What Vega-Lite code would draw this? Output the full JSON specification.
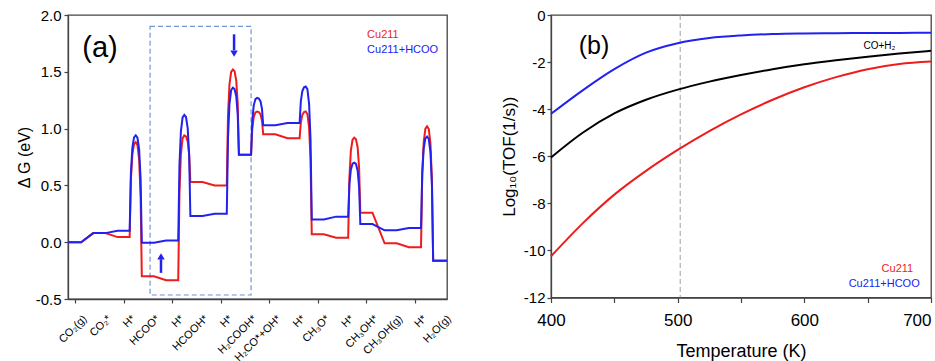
{
"$schema": "https://vega.github.io/schema/vega-lite/v6.json",
"padding": {"left": 15, "top": 7, "right": 0, "bottom": 0},
"spacing": 45,
"config": {
  "font": "Liberation Sans",
  "view": {"stroke": "#444", "strokeWidth": 1.3},
  "axis": {"grid": false, "domainColor": "#444", "domainWidth": 1.3, "tickColor": "#444", "tickWidth": 1.2, "labelColor": "#000", "titleColor": "#000", "titleFontWeight": "normal", "labelFlush": false}
},
"resolve": {"scale": {"color": "independent", "shape": "independent"}},
"datasets": {
  "box": [{"x1": 3.09, "x2": 7.25, "y1": 1.90, "y2": -0.465}],
  "arrows": [{"x": 6.55, "y": 1.83, "y2": 1.69}, {"x": 3.54, "y": -0.27, "y2": -0.15}],
  "heads": [{"x": 6.55, "y": 1.66, "dir": "down"}, {"x": 3.54, "y": -0.125, "dir": "up"}],
  "labelsA": [{"t": "Cu211", "x": 12.03, "y": 1.82}, {"t": "Cu211+HCOO", "x": 12.03, "y": 1.69}],
  "states": [
    {"i": 0, "lab": "CO₂(g)", "yb": -0.553}, {"i": 1, "lab": "CO₂*", "yb": -0.553}, {"i": 2, "lab": "H*", "yb": -0.553}, {"i": 3, "lab": "HCOO*", "yb": -0.553},
    {"i": 4, "lab": "H*", "yb": -0.553}, {"i": 5, "lab": "HCOOH*", "yb": -0.553}, {"i": 6, "lab": "H*", "yb": -0.553}, {"i": 7, "lab": "H₂COOH*", "yb": -0.553},
    {"i": 8, "lab": "H₂CO*+OH*", "yb": -0.553}, {"i": 9, "lab": "H*", "yb": -0.553}, {"i": 10, "lab": "CH₃O*", "yb": -0.553}, {"i": 11, "lab": "H*", "yb": -0.553},
    {"i": 12, "lab": "CH₃OH*", "yb": -0.553}, {"i": 13, "lab": "CH₃OH(g)", "yb": -0.553}, {"i": 14, "lab": "H*", "yb": -0.553}, {"i": 15, "lab": "H₂O(g)", "yb": -0.553}
  ],
  "profile": [
{"s":"Cu211","x":-0.29,"g":0},{"s":"Cu211","x":0.25,"g":0},{"s":"Cu211","x":0.75,"g":0.08},{"s":"Cu211","x":1.25,"g":0.08},{"s":"Cu211","x":1.75,"g":0.045},{"s":"Cu211","x":2.25,"g":0.045},{"s":"Cu211","x":2.30,"g":0.546},{"s":"Cu211","x":2.36,"g":0.771},{"s":"Cu211","x":2.43,"g":0.863},{"s":"Cu211","x":2.5,"g":0.88},{"s":"Cu211","x":2.57,"g":0.856},{"s":"Cu211","x":2.64,"g":0.727},{"s":"Cu211","x":2.70,"g":0.408},{"s":"Cu211","x":2.75,"g":-0.30},{"s":"Cu211","x":3.25,"g":-0.30},{"s":"Cu211","x":3.75,"g":-0.335},{"s":"Cu211","x":4.25,"g":-0.335},{"s":"Cu211","x":4.30,"g":0.43},{"s":"Cu211","x":4.36,"g":0.774},{"s":"Cu211","x":4.43,"g":0.915},{"s":"Cu211","x":4.5,"g":0.94},{"s":"Cu211","x":4.57,"g":0.932},{"s":"Cu211","x":4.64,"g":0.887},{"s":"Cu211","x":4.70,"g":0.776},{"s":"Cu211","x":4.75,"g":0.53},{"s":"Cu211","x":5.25,"g":0.53},{"s":"Cu211","x":5.75,"g":0.50},{"s":"Cu211","x":6.25,"g":0.50},{"s":"Cu211","x":6.30,"g":1.112},{"s":"Cu211","x":6.36,"g":1.387},{"s":"Cu211","x":6.43,"g":1.50},{"s":"Cu211","x":6.5,"g":1.52},{"s":"Cu211","x":6.57,"g":1.505},{"s":"Cu211","x":6.64,"g":1.423},{"s":"Cu211","x":6.70,"g":1.22},{"s":"Cu211","x":6.75,"g":0.77},{"s":"Cu211","x":7.25,"g":0.77},{"s":"Cu211","x":7.30,"g":0.998},{"s":"Cu211","x":7.36,"g":1.101},{"s":"Cu211","x":7.43,"g":1.142},{"s":"Cu211","x":7.5,"g":1.15},{"s":"Cu211","x":7.57,"g":1.146},{"s":"Cu211","x":7.64,"g":1.124},{"s":"Cu211","x":7.70,"g":1.07},{"s":"Cu211","x":7.75,"g":0.95},{"s":"Cu211","x":8.25,"g":0.95},{"s":"Cu211","x":8.75,"g":0.915},{"s":"Cu211","x":9.25,"g":0.915},{"s":"Cu211","x":9.30,"g":1.056},{"s":"Cu211","x":9.36,"g":1.119},{"s":"Cu211","x":9.43,"g":1.145},{"s":"Cu211","x":9.5,"g":1.15},{"s":"Cu211","x":9.57,"g":1.128},{"s":"Cu211","x":9.64,"g":1.01},{"s":"Cu211","x":9.70,"g":0.718},{"s":"Cu211","x":9.75,"g":0.07},{"s":"Cu211","x":10.25,"g":0.07},{"s":"Cu211","x":10.75,"g":0.04},{"s":"Cu211","x":11.25,"g":0.04},{"s":"Cu211","x":11.30,"g":0.568},{"s":"Cu211","x":11.36,"g":0.806},{"s":"Cu211","x":11.43,"g":0.902},{"s":"Cu211","x":11.5,"g":0.92},{"s":"Cu211","x":11.57,"g":0.907},{"s":"Cu211","x":11.64,"g":0.834},{"s":"Cu211","x":11.70,"g":0.656},{"s":"Cu211","x":11.75,"g":0.26},{"s":"Cu211","x":12.25,"g":0.26},{"s":"Cu211","x":12.75,"g":-0.01},{"s":"Cu211","x":13.25,"g":-0.01},{"s":"Cu211","x":13.75,"g":-0.045},{"s":"Cu211","x":14.25,"g":-0.045},{"s":"Cu211","x":14.30,"g":0.594},{"s":"Cu211","x":14.36,"g":0.882},{"s":"Cu211","x":14.43,"g":0.999},{"s":"Cu211","x":14.5,"g":1.02},{"s":"Cu211","x":14.57,"g":0.996},{"s":"Cu211","x":14.64,"g":0.866},{"s":"Cu211","x":14.70,"g":0.546},{"s":"Cu211","x":14.75,"g":-0.165},{"s":"Cu211","x":15.32,"g":-0.165},
{"s":"Cu211+HCOO","x":-0.29,"g":0},{"s":"Cu211+HCOO","x":0.25,"g":0},{"s":"Cu211+HCOO","x":0.75,"g":0.08},{"s":"Cu211+HCOO","x":1.25,"g":0.08},{"s":"Cu211+HCOO","x":1.75,"g":0.10},{"s":"Cu211+HCOO","x":2.25,"g":0.10},{"s":"Cu211+HCOO","x":2.30,"g":0.604},{"s":"Cu211+HCOO","x":2.36,"g":0.831},{"s":"Cu211+HCOO","x":2.43,"g":0.923},{"s":"Cu211+HCOO","x":2.5,"g":0.94},{"s":"Cu211+HCOO","x":2.57,"g":0.921},{"s":"Cu211+HCOO","x":2.64,"g":0.817},{"s":"Cu211+HCOO","x":2.70,"g":0.562},{"s":"Cu211+HCOO","x":2.75,"g":-0.005},{"s":"Cu211+HCOO","x":3.25,"g":-0.005},{"s":"Cu211+HCOO","x":3.75,"g":0.015},{"s":"Cu211+HCOO","x":4.25,"g":0.015},{"s":"Cu211+HCOO","x":4.30,"g":0.678},{"s":"Cu211+HCOO","x":4.36,"g":0.976},{"s":"Cu211+HCOO","x":4.43,"g":1.098},{"s":"Cu211+HCOO","x":4.5,"g":1.12},{"s":"Cu211+HCOO","x":4.57,"g":1.102},{"s":"Cu211+HCOO","x":4.64,"g":1.004},{"s":"Cu211+HCOO","x":4.70,"g":0.764},{"s":"Cu211+HCOO","x":4.75,"g":0.23},{"s":"Cu211+HCOO","x":5.25,"g":0.23},{"s":"Cu211+HCOO","x":5.75,"g":0.25},{"s":"Cu211+HCOO","x":6.25,"g":0.25},{"s":"Cu211+HCOO","x":6.30,"g":0.916},{"s":"Cu211+HCOO","x":6.36,"g":1.216},{"s":"Cu211+HCOO","x":6.43,"g":1.338},{"s":"Cu211+HCOO","x":6.5,"g":1.36},{"s":"Cu211+HCOO","x":6.57,"g":1.348},{"s":"Cu211+HCOO","x":6.64,"g":1.283},{"s":"Cu211+HCOO","x":6.70,"g":1.124},{"s":"Cu211+HCOO","x":6.75,"g":0.77},{"s":"Cu211+HCOO","x":7.25,"g":0.77},{"s":"Cu211+HCOO","x":7.30,"g":1.07},{"s":"Cu211+HCOO","x":7.36,"g":1.205},{"s":"Cu211+HCOO","x":7.43,"g":1.26},{"s":"Cu211+HCOO","x":7.5,"g":1.27},{"s":"Cu211+HCOO","x":7.57,"g":1.265},{"s":"Cu211+HCOO","x":7.64,"g":1.239},{"s":"Cu211+HCOO","x":7.70,"g":1.174},{"s":"Cu211+HCOO","x":7.75,"g":1.03},{"s":"Cu211+HCOO","x":8.25,"g":1.03},{"s":"Cu211+HCOO","x":8.75,"g":1.05},{"s":"Cu211+HCOO","x":9.25,"g":1.05},{"s":"Cu211+HCOO","x":9.30,"g":1.242},{"s":"Cu211+HCOO","x":9.36,"g":1.328},{"s":"Cu211+HCOO","x":9.43,"g":1.364},{"s":"Cu211+HCOO","x":9.5,"g":1.37},{"s":"Cu211+HCOO","x":9.57,"g":1.347},{"s":"Cu211+HCOO","x":9.64,"g":1.218},{"s":"Cu211+HCOO","x":9.70,"g":0.902},{"s":"Cu211+HCOO","x":9.75,"g":0.20},{"s":"Cu211+HCOO","x":10.25,"g":0.20},{"s":"Cu211+HCOO","x":10.75,"g":0.225},{"s":"Cu211+HCOO","x":11.25,"g":0.225},{"s":"Cu211+HCOO","x":11.30,"g":0.51},{"s":"Cu211+HCOO","x":11.36,"g":0.638},{"s":"Cu211+HCOO","x":11.43,"g":0.691},{"s":"Cu211+HCOO","x":11.5,"g":0.70},{"s":"Cu211+HCOO","x":11.57,"g":0.689},{"s":"Cu211+HCOO","x":11.64,"g":0.63},{"s":"Cu211+HCOO","x":11.70,"g":0.484},{"s":"Cu211+HCOO","x":11.75,"g":0.16},{"s":"Cu211+HCOO","x":12.25,"g":0.16},{"s":"Cu211+HCOO","x":12.75,"g":0.105},{"s":"Cu211+HCOO","x":13.25,"g":0.105},{"s":"Cu211+HCOO","x":13.75,"g":0.125},{"s":"Cu211+HCOO","x":14.25,"g":0.125},{"s":"Cu211+HCOO","x":14.30,"g":0.608},{"s":"Cu211+HCOO","x":14.36,"g":0.825},{"s":"Cu211+HCOO","x":14.43,"g":0.914},{"s":"Cu211+HCOO","x":14.5,"g":0.93},{"s":"Cu211+HCOO","x":14.57,"g":0.908},{"s":"Cu211+HCOO","x":14.64,"g":0.788},{"s":"Cu211+HCOO","x":14.70,"g":0.494},{"s":"Cu211+HCOO","x":14.75,"g":-0.16},{"s":"Cu211+HCOO","x":15.32,"g":-0.16}
  ],
  "tof": [
{"c":"Cu211","T":400,"v":-10.25},{"c":"Cu211","T":425,"v":-8.85},{"c":"Cu211","T":450,"v":-7.63},{"c":"Cu211","T":475,"v":-6.62},{"c":"Cu211","T":500,"v":-5.73},{"c":"Cu211","T":525,"v":-4.93},{"c":"Cu211","T":550,"v":-4.22},{"c":"Cu211","T":575,"v":-3.6},{"c":"Cu211","T":600,"v":-3.07},{"c":"Cu211","T":625,"v":-2.64},{"c":"Cu211","T":650,"v":-2.3},{"c":"Cu211","T":675,"v":-2.08},{"c":"Cu211","T":700,"v":-1.98},
{"c":"CO+H2","T":400,"v":-6.05},{"c":"CO+H2","T":425,"v":-5.0},{"c":"CO+H2","T":450,"v":-4.18},{"c":"CO+H2","T":475,"v":-3.6},{"c":"CO+H2","T":500,"v":-3.17},{"c":"CO+H2","T":525,"v":-2.83},{"c":"CO+H2","T":550,"v":-2.55},{"c":"CO+H2","T":575,"v":-2.3},{"c":"CO+H2","T":600,"v":-2.09},{"c":"CO+H2","T":625,"v":-1.92},{"c":"CO+H2","T":650,"v":-1.77},{"c":"CO+H2","T":675,"v":-1.64},{"c":"CO+H2","T":700,"v":-1.52},
{"c":"Cu211+HCOO","T":400,"v":-4.2},{"c":"Cu211+HCOO","T":425,"v":-3.2},{"c":"Cu211+HCOO","T":450,"v":-2.3},{"c":"Cu211+HCOO","T":475,"v":-1.6},{"c":"Cu211+HCOO","T":500,"v":-1.2},{"c":"Cu211+HCOO","T":525,"v":-0.98},{"c":"Cu211+HCOO","T":550,"v":-0.87},{"c":"Cu211+HCOO","T":575,"v":-0.81},{"c":"Cu211+HCOO","T":600,"v":-0.785},{"c":"Cu211+HCOO","T":625,"v":-0.772},{"c":"Cu211+HCOO","T":650,"v":-0.765},{"c":"Cu211+HCOO","T":675,"v":-0.76},{"c":"Cu211+HCOO","T":700,"v":-0.757}
  ],
  "vline": [{"T": 502}],
  "labelsB": [{"c": "Cu211", "T": 661, "v": -10.8}, {"c": "Cu211+HCOO", "T": 635, "v": -11.43}]
},
"hconcat": [
{
  "width": 379, "height": 284,
  "layer": [
    {"data": {"name": "box"},
     "mark": {"type": "rect", "fillOpacity": 0, "stroke": "#7096d6", "strokeDash": [5, 3], "strokeWidth": 1.2},
     "encoding": {
       "x": {"field": "x1", "type": "quantitative", "scale": {"domain": [-0.29, 15.32], "nice": false, "zero": false},
             "axis": {"values": [0,1,2,3,4,5,6,7,8,9,10,11,12,13,14,15], "labels": false, "tickSize": 4, "title": null}},
       "x2": {"field": "x2"},
       "y": {"field": "y1", "type": "quantitative", "scale": {"domain": [-0.5, 2], "nice": false, "zero": false},
             "axis": {"values": [-0.5, 0, 0.5, 1, 1.5, 2], "labelExpr": "replace(format(datum.value, '.1f'), '−', '-')", "labelFontSize": 15, "labelPadding": 3, "tickSize": 4, "title": "Δ G (eV)", "titleFontSize": 16, "titlePadding": 3}},
       "y2": {"field": "y2"}
     }},
    {"data": {"name": "profile"},
     "mark": {"type": "line", "strokeWidth": 2},
     "encoding": {
       "x": {"field": "x", "type": "quantitative"},
       "y": {"field": "g", "type": "quantitative"},
       "color": {"field": "s", "type": "nominal", "scale": {"domain": ["Cu211", "Cu211+HCOO"], "range": ["#ee1c1c", "#2222f0"]}, "legend": null}
     }},
    {"data": {"name": "arrows"},
     "mark": {"type": "rule", "color": "#2222f0", "strokeWidth": 2.5},
     "encoding": {"x": {"field": "x", "type": "quantitative"}, "y": {"field": "y", "type": "quantitative"}, "y2": {"field": "y2"}}},
    {"data": {"name": "heads"},
     "mark": {"type": "point", "filled": true, "color": "#2222f0", "opacity": 1, "size": 55},
     "encoding": {"x": {"field": "x", "type": "quantitative"}, "y": {"field": "y", "type": "quantitative"},
       "shape": {"field": "dir", "type": "nominal", "scale": {"domain": ["down", "up"], "range": ["triangle-down", "triangle-up"]}, "legend": null}}},
    {"data": {"name": "states"},
     "mark": {"type": "text", "fontSize": 11, "angle": -45, "align": "right", "baseline": "top", "color": "#000", "dx": -1.4, "dy": 9.9},
     "encoding": {"x": {"field": "i", "type": "quantitative"}, "y": {"field": "yb", "type": "quantitative"}, "text": {"field": "lab"}}},
    {"data": {"values": [{"t": "(a)", "x": 1.03, "y": 1.71}]},
     "mark": {"type": "text", "fontSize": 29, "align": "center", "baseline": "middle", "color": "#000"},
     "encoding": {"x": {"field": "x", "type": "quantitative"}, "y": {"field": "y", "type": "quantitative"}, "text": {"field": "t"}}},
    {"data": {"name": "labelsA"},
     "mark": {"type": "text", "fontSize": 11, "align": "left", "baseline": "middle"},
     "encoding": {"x": {"field": "x", "type": "quantitative"}, "y": {"field": "y", "type": "quantitative"}, "text": {"field": "t"},
       "color": {"field": "t", "type": "nominal", "scale": {"domain": ["Cu211", "Cu211+HCOO"], "range": ["#ee1c1c", "#2222f0"]}, "legend": null}}}
  ]
},
{
  "width": 380, "height": 282.5,
  "layer": [
    {"data": {"name": "vline"},
     "mark": {"type": "rule", "color": "#a0a0a0", "strokeDash": [5, 3], "strokeWidth": 1},
     "encoding": {"x": {"field": "T", "type": "quantitative", "scale": {"domain": [400, 700], "nice": false, "zero": false},
       "axis": {"values": [400, 450, 500, 550, 600, 650, 700], "labelExpr": "datum.value % 100 === 0 ? datum.label : ''", "labelAlign": {"expr": "datum.value === 700 ? 'right' : 'center'"}, "labelFontSize": 17, "labelPadding": 10, "tickSize": 5, "title": "Temperature (K)", "titleFontSize": 18, "titlePadding": 14}}}},
    {"data": {"name": "tof"},
     "mark": {"type": "line", "strokeWidth": 2, "interpolate": "monotone"},
     "encoding": {
       "x": {"field": "T", "type": "quantitative"},
       "y": {"field": "v", "type": "quantitative", "scale": {"domain": [-12, 0], "nice": false, "zero": false},
         "axis": {"values": [-12, -10, -8, -6, -4, -2, 0], "labelExpr": "replace(datum.label, '−', '-')", "labelFontSize": 15, "labelPadding": 2, "tickSize": 4, "title": "Log₁₀(TOF(1/s))", "titleFontSize": 17, "titlePadding": 5}},
       "color": {"field": "c", "type": "nominal", "scale": {"domain": ["Cu211", "Cu211+HCOO", "CO+H2"], "range": ["#ee1c1c", "#2222f0", "#000000"]}, "legend": null}
     }},
    {"data": {"values": [{"t": "(b)", "T": 434, "v": -1.31}]},
     "mark": {"type": "text", "fontSize": 25, "align": "center", "baseline": "middle", "color": "#000"},
     "encoding": {"x": {"field": "T", "type": "quantitative"}, "y": {"field": "v", "type": "quantitative"}, "text": {"field": "t"}}},
    {"data": {"values": [{"t": "CO+H₂", "T": 646.7, "v": -1.31}]},
     "mark": {"type": "text", "fontSize": 10, "align": "left", "baseline": "middle", "color": "#000"},
     "encoding": {"x": {"field": "T", "type": "quantitative"}, "y": {"field": "v", "type": "quantitative"}, "text": {"field": "t"}}},
    {"data": {"name": "labelsB"},
     "mark": {"type": "text", "fontSize": 11, "align": "left", "baseline": "middle"},
     "encoding": {"x": {"field": "T", "type": "quantitative"}, "y": {"field": "v", "type": "quantitative"}, "text": {"field": "c"},
       "color": {"field": "c", "type": "nominal", "scale": {"domain": ["Cu211", "Cu211+HCOO", "CO+H2"], "range": ["#ee1c1c", "#2222f0", "#000000"]}, "legend": null}}}
  ]
}
]
}
